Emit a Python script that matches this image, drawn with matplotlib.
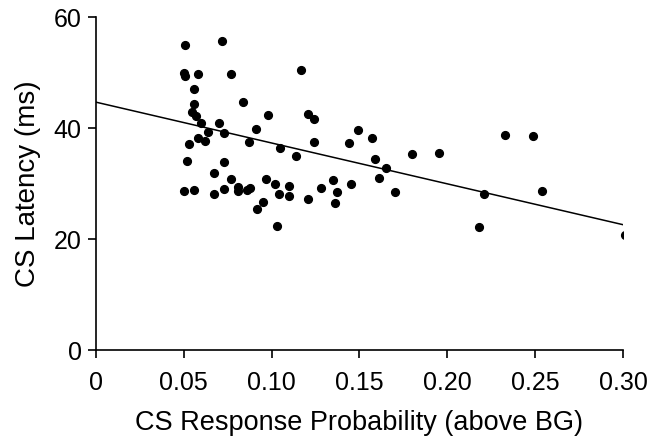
import matplotlib
matplotlib.use("Agg")
import matplotlib.pyplot as plt
import numpy as np

plt.rcParams['font.family'] = ['Liberation Sans', 'DejaVu Sans']

prob = [0.051, 0.072, 0.050, 0.051, 0.058, 0.077, 0.056, 0.084, 0.056, 0.055,
        0.057, 0.098, 0.060, 0.070, 0.091, 0.064, 0.073, 0.053, 0.058, 0.062,
        0.087, 0.105, 0.052, 0.073, 0.067, 0.077, 0.097, 0.102, 0.110, 0.050,
        0.056, 0.067, 0.073, 0.081, 0.081, 0.086, 0.088, 0.104, 0.110, 0.095,
        0.092, 0.103, 0.121, 0.124, 0.149, 0.157, 0.124, 0.144, 0.114, 0.180,
        0.195, 0.159, 0.165, 0.161, 0.135, 0.128, 0.145, 0.137, 0.170, 0.121,
        0.136, 0.218, 0.233, 0.249, 0.221, 0.254, 0.301, 0.117]
latency = [55.0, 55.8, 49.9, 49.4, 49.7, 49.7, 47.1, 44.7, 44.3, 42.9,
           42.2, 42.4, 40.9, 40.9, 39.9, 39.3, 39.1, 37.1, 38.2, 37.6,
           37.5, 36.5, 34.1, 33.9, 31.9, 30.9, 30.9, 30.0, 29.6, 28.7,
           28.8, 28.1, 29.1, 29.4, 28.7, 28.9, 29.2, 28.1, 27.7, 26.7,
           25.5, 22.3, 42.5, 41.7, 39.7, 38.3, 37.5, 37.4, 35.0, 35.3,
           35.5, 34.5, 32.9, 31.1, 30.6, 29.2, 30.0, 28.5, 28.5, 27.2,
           26.6, 22.2, 38.7, 38.6, 28.2, 28.6, 20.8, 50.5]

fit_x = [0.0, 0.30]
fit_y = [44.7, 22.6]

x_ticks = [0, 0.05, 0.10, 0.15, 0.20, 0.25, 0.30]
x_ticklabels = ['0', '0.05', '0.10', '0.15', '0.20', '0.25', '0.30']
y_ticks = [0, 20, 40, 60]

fig = plt.figure(figsize=(6.47, 4.42), dpi=100)
ax = fig.add_axes([0.148, 0.208, 0.815, 0.753])

ax.plot(prob, latency, 'o', color='black', markersize=5.6, zorder=3)
ax.plot(fit_x, fit_y, '-', color='black', linewidth=1.1, zorder=2)

ax.set_xlim(0, 0.30)
ax.set_ylim(0, 60)
ax.spines['top'].set_visible(False)
ax.spines['right'].set_visible(False)
ax.spines['left'].set_linewidth(1.2)
ax.spines['bottom'].set_linewidth(1.2)
ax.set_xticks(x_ticks)
ax.set_xticklabels(x_ticklabels)
ax.set_yticks(y_ticks)
ax.tick_params(axis='both', direction='out', length=6, width=1.2, labelsize=18)
ax.tick_params(axis='x', pad=9)
ax.tick_params(axis='y', pad=4)
ax.set_xlabel('CS Response Probability (above BG)', fontsize=19.5, labelpad=11)
ax.set_ylabel('CS Latency (ms)', fontsize=20, labelpad=9)

fig.savefig('out.png', dpi=100)
